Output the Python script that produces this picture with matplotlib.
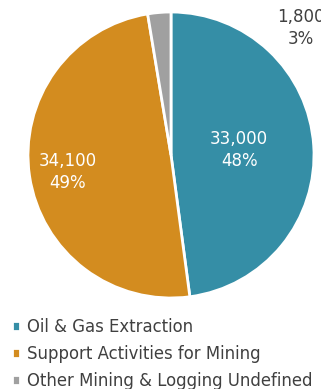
import matplotlib.pyplot as plt

# employment by mining subsector
sectors = ["Oil & Gas Extraction", "Support Activities for Mining", "Other Mining & Logging Undefined"]
jobs = [33000, 34100, 1800]
shares = ["48%", "49%", "3%"]
colors = ["#358ea6", "#d38c1f", "#a0a0a0"]

W, H = 321, 389
fig = plt.figure(figsize=(W / 100, H / 100), dpi=100)
plt.rcParams['font.family'] = ['DejaVu Sans']

# pie centred at (171,155) px, radius 143 px
cx, cy, r = 171, 155, 143
ax = fig.add_axes([(cx - r) / W, (H - cy - r) / H, 2 * r / W, 2 * r / H])
wedges, _ = ax.pie(jobs, colors=colors, startangle=90, counterclock=False,
                   wedgeprops=dict(edgecolor="white", linewidth=2))
ax.set_xlim(-1, 1)
ax.set_ylim(-1, 1)
ax.set_aspect("equal")
ax.axis("off")

# value labels
lab_pos = [(0.476, 0.035, "white"), (-0.72, -0.12, "white"), (0.91, 0.89, "#404040")]
for v, s, (lx, ly, c) in zip(jobs, shares, lab_pos):
    ax.text(lx, ly, f"{v:,}\n{s}", ha="center", va="center", color=c,
            fontsize=12, linespacing=1.3, clip_on=False)

leg = fig.legend(wedges, sectors, loc="upper left",
                 bbox_to_anchor=(-3 / W, 1 - 303 / H), frameon=False,
                 handlelength=0.5, handleheight=0.5, handletextpad=0.4,
                 labelspacing=0.55, fontsize=11.9, labelcolor="#404040")

fig.savefig("out.png", dpi=100)
